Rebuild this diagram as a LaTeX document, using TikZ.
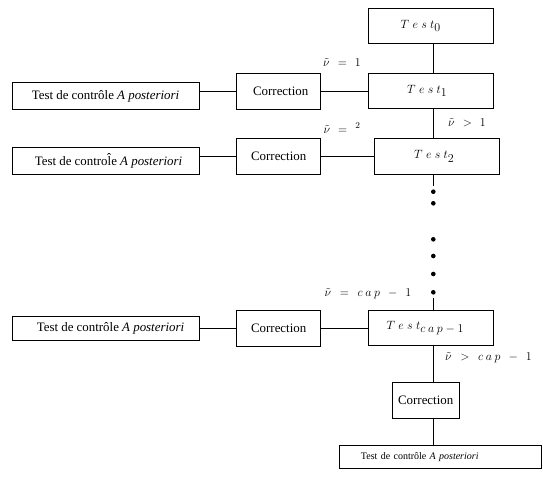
\documentclass[tikz,border=0pt]{standalone}
\usepackage{fontspec}
\newfontfamily\tnr{Liberation Serif}
\begin{document}
\begin{tikzpicture}[x=1pt,y=-1pt,
  box/.style={draw,line width=0.9pt,inner sep=0pt,anchor=center},
  tbox/.style={box,font=\tnr\fontsize{12.9}{15}\selectfont},
  mbox/.style={box,font=\fontsize{12.5}{14}\selectfont},
  lab/.style={inner sep=0pt,anchor=center,font=\fontsize{12.5}{14}\selectfont},
  ln/.style={line width=0.9pt},
  dotc/.style={circle,fill=black,inner sep=0pt,minimum size=4.6pt}]
\useasboundingbox (0,0) rectangle (543,478);
\newcommand{\tst}[1]{$T\mkern5mu e\mkern5mu s\mkern5mu t$\raisebox{-3.6pt}{$#1$}}
% main column
\node[mbox,minimum width=125pt,minimum height=35pt] (t0) at (430.5,25.8) {\tst{0}\hspace*{20pt}};
\node[mbox,minimum width=125pt,minimum height=35pt] (t1) at (430.5,90.8) {\tst{1}\hspace*{7pt}};
\node[mbox,minimum width=125pt,minimum height=35.7pt] (t2) at (436.5,156.2) {\tst{2}\hspace*{5pt}};
\node[mbox,minimum width=125pt,minimum height=35pt] (tc) at (430.5,328.2) {\tst{c\mkern4mu a\mkern4mu p-1}\hspace*{11pt}};
\node[tbox,minimum width=67.3pt,minimum height=36pt] (cb) at (425.7,400.3) {Correction};
\node[box,font=\tnr\fontsize{10}{12}\selectfont,minimum width=202.7pt,minimum height=23.3pt,text width=202.7pt,align=left] (ab) at (440.3,456.7) {\hspace*{22pt}Test de contrôle \textit{A posteriori}};
% corrections
\node[tbox,minimum width=84pt,minimum height=35.7pt] (c1) at (278.7,91.2) {\hspace*{4pt}Correction};
\node[tbox,minimum width=84pt,minimum height=35.7pt] (c2) at (278.7,156.2) {Correction};
\node[tbox,minimum width=84pt,minimum height=35.3pt] (c3) at (278.7,328.3) {Correction};
% a posteriori boxes
\node[tbox,minimum width=187pt,minimum height=26.6pt] (a1) at (105.5,96) {Test de contrôle \textit{A posteriori}};
\node[tbox,minimum width=187pt,minimum height=26.7pt] (a2) at (105.5,160.7) {\hspace*{6pt}Test de contro\^{l}e \textit{A posteriori}};
\node[tbox,minimum width=187pt,minimum height=24.7pt] (a3) at (105.5,328.3) {\hspace*{10pt}Test de contrôle \textit{A posteriori}};
% dots
\node[dotc] (d1) at (433.3,191.7) {};
\node[dotc] (d2) at (433.3,203.3) {};
\node[dotc] (d3) at (433.3,239.3) {};
\node[dotc] (d4) at (433.3,256) {};
\node[dotc] (d5) at (433.3,274) {};
\node[dotc] (d6) at (433.3,292.3) {};
\coordinate (vx) at (433.3,0);
\coordinate (d1t) at (433.3,186.5);
\coordinate (d6b) at (433.3,297.5);
% labels
\node[lab] (l1) at (342,63) {$\tilde{\nu}\mkern7mu=\mkern7mu 1$};
\node[lab] (l2) at (342,128) {$\tilde{\nu}\mkern7mu=\mkern7mu {}^{2}$};
\node[lab] (l3) at (467,122.5) {$\tilde{\nu}\mkern7mu>\mkern7mu 1$};
\node[lab] (l4) at (368,294) {$\tilde{\nu}\mkern8mu=\mkern8mu c\mkern4mu a\mkern4mu p\mkern8mu-\mkern8mu 1$};
\node[lab] (l5) at (488.5,358) {$\tilde{\nu}\mkern8mu>\mkern8mu c\mkern4mu a\mkern4mu p\mkern8mu-\mkern8mu 1$};
% connectors
\draw[ln] (t0.south -| vx) -- (t1.north -| vx);
\draw[ln] (t1.south -| vx) -- (t2.north -| vx);
\draw[ln] (t2.south -| vx) -- (d1t);
\draw[ln] (d6b) -- (tc.north -| vx);
\draw[ln] (tc.south -| vx) -- (cb.north -| vx);
\draw[ln] (cb.south -| vx) -- (ab.north -| vx);
\draw[ln] (c1.east) -- (c1.east -| t1.west);
\draw[ln] (c2.east) -- (c2.east -| t2.west);
\draw[ln] (c3.east) -- (c3.east -| tc.west);
\draw[ln] (c1.west) -- (c1.west -| a1.east);
\draw[ln] (c2.west) -- (c2.west -| a2.east);
\draw[ln] (c3.west) -- (c3.west -| a3.east);
\end{tikzpicture}
\end{document}
